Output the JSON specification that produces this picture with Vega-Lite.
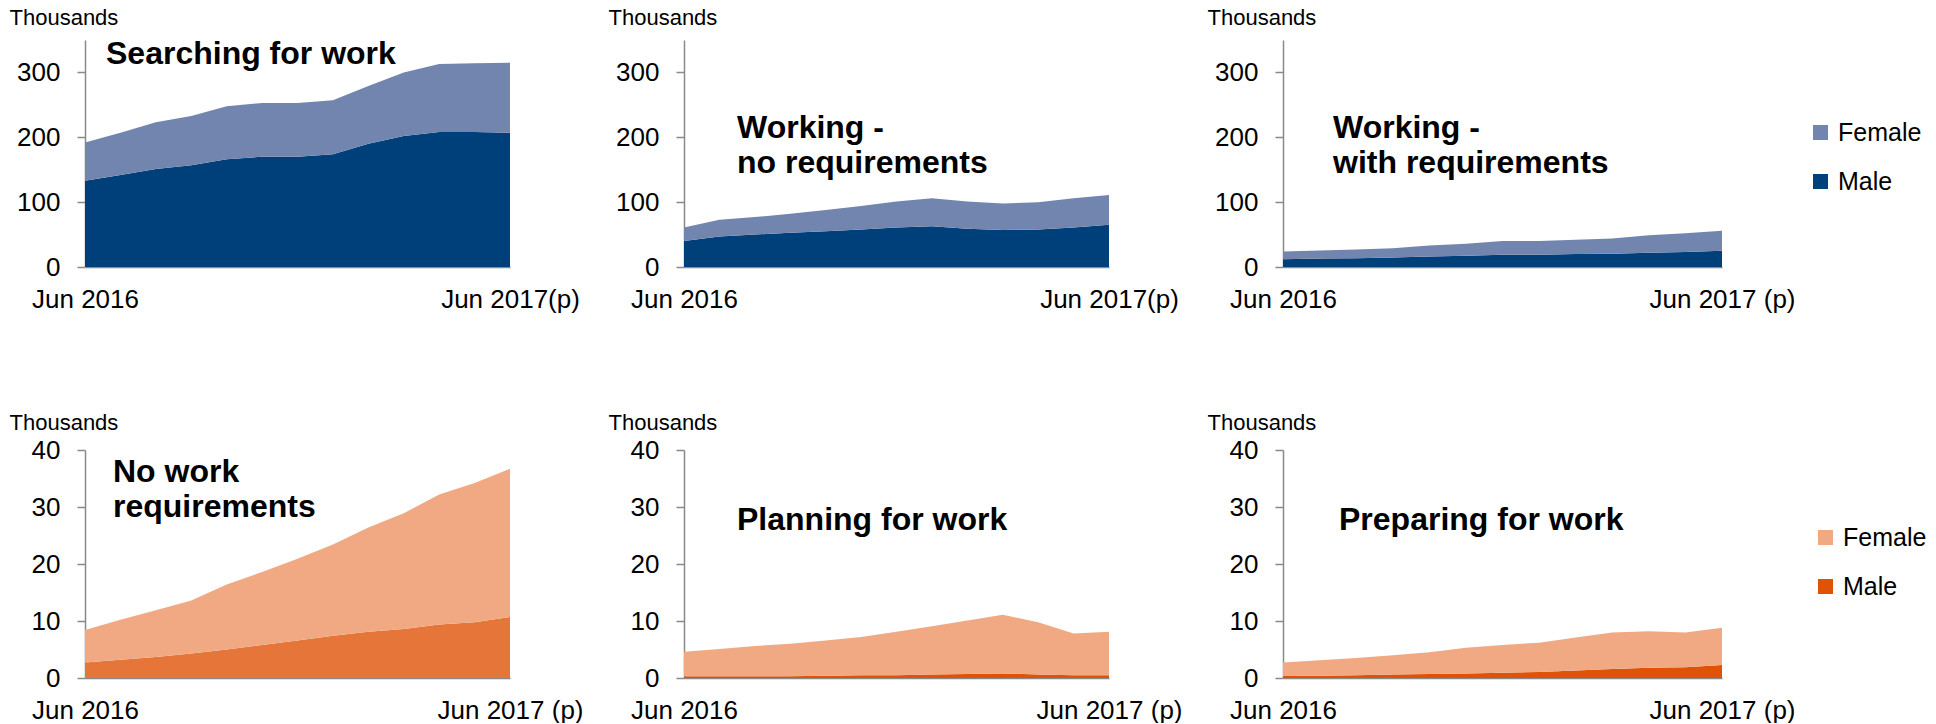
{
  "$schema": "https://vega.github.io/schema/vega-lite/v6.json",
  "padding": {"left": 9, "top": 6, "right": 5, "bottom": 0},
  "background": "white",
  "config": {
    "font": "Liberation Sans",
    "view": {"stroke": null},
    "axis": {"grid": false, "domainColor": "#898989", "tickColor": "#898989", "domainWidth": 1.5, "tickWidth": 1.5, "labelColor": "#000000", "labelFontSize": 26, "titleColor": "#000000", "titleFontWeight": "normal", "titleFontSize": 22},
    "axisX": {"ticks": false, "labelPadding": 19, "labelFlush": false, "labelOverlap": false, "labelAngle": 0, "title": null},
    "axisY": {"tickSize": 8, "labelPadding": 17, "titleAngle": 0, "titleAlign": "left", "titleBaseline": "alphabetic", "titleX": -76},
    "title": {"anchor": "start", "frame": "group", "offset": 0, "fontSize": 32, "fontWeight": "bold", "baseline": "alphabetic", "lineHeight": 35, "color": "#000000"},
    "legend": {"title": null, "symbolType": "square", "symbolSize": 225, "symbolStrokeWidth": 0, "labelFontSize": 25, "labelColor": "#000000", "rowPadding": 23, "labelOffset": 5, "padding": 0, "direction": "vertical"},
    "area": {"interpolate": "linear"}
  },
  "data": {"values": [
    {"panel": "search", "month": "Jun 2016", "Male": 133, "Female": 59},
    {"panel": "search", "month": "Jul 2016", "Male": 142, "Female": 65},
    {"panel": "search", "month": "Aug 2016", "Male": 151, "Female": 72},
    {"panel": "search", "month": "Sep 2016", "Male": 157, "Female": 76},
    {"panel": "search", "month": "Oct 2016", "Male": 166, "Female": 82},
    {"panel": "search", "month": "Nov 2016", "Male": 170, "Female": 83},
    {"panel": "search", "month": "Dec 2016", "Male": 170, "Female": 83},
    {"panel": "search", "month": "Jan 2017", "Male": 174, "Female": 83},
    {"panel": "search", "month": "Feb 2017", "Male": 190, "Female": 89},
    {"panel": "search", "month": "Mar 2017", "Male": 202, "Female": 98},
    {"panel": "search", "month": "Apr 2017", "Male": 208, "Female": 105},
    {"panel": "search", "month": "May 2017", "Male": 208, "Female": 106},
    {"panel": "search", "month": "Jun 2017", "Male": 207, "Female": 108},
    {"panel": "worknoreq", "month": "Jun 2016", "Male": 40, "Female": 21},
    {"panel": "worknoreq", "month": "Jul 2016", "Male": 47, "Female": 26},
    {"panel": "worknoreq", "month": "Aug 2016", "Male": 50, "Female": 27},
    {"panel": "worknoreq", "month": "Sep 2016", "Male": 53, "Female": 29},
    {"panel": "worknoreq", "month": "Oct 2016", "Male": 55, "Female": 33},
    {"panel": "worknoreq", "month": "Nov 2016", "Male": 58, "Female": 36},
    {"panel": "worknoreq", "month": "Dec 2016", "Male": 61, "Female": 40},
    {"panel": "worknoreq", "month": "Jan 2017", "Male": 63, "Female": 43},
    {"panel": "worknoreq", "month": "Feb 2017", "Male": 59, "Female": 42},
    {"panel": "worknoreq", "month": "Mar 2017", "Male": 57, "Female": 41},
    {"panel": "worknoreq", "month": "Apr 2017", "Male": 58, "Female": 42},
    {"panel": "worknoreq", "month": "May 2017", "Male": 61, "Female": 45},
    {"panel": "worknoreq", "month": "Jun 2017", "Male": 65, "Female": 46},
    {"panel": "workreq", "month": "Jun 2016", "Male": 12, "Female": 12},
    {"panel": "workreq", "month": "Jul 2016", "Male": 13, "Female": 12.5},
    {"panel": "workreq", "month": "Aug 2016", "Male": 13.5, "Female": 13.5},
    {"panel": "workreq", "month": "Sep 2016", "Male": 14.5, "Female": 14.5},
    {"panel": "workreq", "month": "Oct 2016", "Male": 16, "Female": 17},
    {"panel": "workreq", "month": "Nov 2016", "Male": 17.5, "Female": 18.5},
    {"panel": "workreq", "month": "Dec 2016", "Male": 19, "Female": 21},
    {"panel": "workreq", "month": "Jan 2017", "Male": 19, "Female": 21},
    {"panel": "workreq", "month": "Feb 2017", "Male": 20, "Female": 22},
    {"panel": "workreq", "month": "Mar 2017", "Male": 20.5, "Female": 23.5},
    {"panel": "workreq", "month": "Apr 2017", "Male": 22, "Female": 27},
    {"panel": "workreq", "month": "May 2017", "Male": 23, "Female": 29},
    {"panel": "workreq", "month": "Jun 2017", "Male": 25, "Female": 31},
    {"panel": "nowork", "month": "Jun 2016", "Male": 2.7, "Female": 5.7},
    {"panel": "nowork", "month": "Jul 2016", "Male": 3.2, "Female": 7.0},
    {"panel": "nowork", "month": "Aug 2016", "Male": 3.7, "Female": 8.2},
    {"panel": "nowork", "month": "Sep 2016", "Male": 4.3, "Female": 9.3},
    {"panel": "nowork", "month": "Oct 2016", "Male": 5.0, "Female": 11.4},
    {"panel": "nowork", "month": "Nov 2016", "Male": 5.8, "Female": 12.8},
    {"panel": "nowork", "month": "Dec 2016", "Male": 6.6, "Female": 14.3},
    {"panel": "nowork", "month": "Jan 2017", "Male": 7.4, "Female": 16.0},
    {"panel": "nowork", "month": "Feb 2017", "Male": 8.1, "Female": 18.3},
    {"panel": "nowork", "month": "Mar 2017", "Male": 8.6, "Female": 20.3},
    {"panel": "nowork", "month": "Apr 2017", "Male": 9.4, "Female": 22.8},
    {"panel": "nowork", "month": "May 2017", "Male": 9.8, "Female": 24.4},
    {"panel": "nowork", "month": "Jun 2017", "Male": 10.7, "Female": 26.0},
    {"panel": "planning", "month": "Jun 2016", "Male": 0.3, "Female": 4.3},
    {"panel": "planning", "month": "Jul 2016", "Male": 0.3, "Female": 4.8},
    {"panel": "planning", "month": "Aug 2016", "Male": 0.3, "Female": 5.3},
    {"panel": "planning", "month": "Sep 2016", "Male": 0.3, "Female": 5.7},
    {"panel": "planning", "month": "Oct 2016", "Male": 0.4, "Female": 6.2},
    {"panel": "planning", "month": "Nov 2016", "Male": 0.5, "Female": 6.7},
    {"panel": "planning", "month": "Dec 2016", "Male": 0.5, "Female": 7.6},
    {"panel": "planning", "month": "Jan 2017", "Male": 0.6, "Female": 8.5},
    {"panel": "planning", "month": "Feb 2017", "Male": 0.7, "Female": 9.4},
    {"panel": "planning", "month": "Mar 2017", "Male": 0.8, "Female": 10.3},
    {"panel": "planning", "month": "Apr 2017", "Male": 0.6, "Female": 9.2},
    {"panel": "planning", "month": "May 2017", "Male": 0.5, "Female": 7.3},
    {"panel": "planning", "month": "Jun 2017", "Male": 0.5, "Female": 7.6},
    {"panel": "preparing", "month": "Jun 2016", "Male": 0.35, "Female": 2.35},
    {"panel": "preparing", "month": "Jul 2016", "Male": 0.4, "Female": 2.7},
    {"panel": "preparing", "month": "Aug 2016", "Male": 0.5, "Female": 3.0},
    {"panel": "preparing", "month": "Sep 2016", "Male": 0.6, "Female": 3.4},
    {"panel": "preparing", "month": "Oct 2016", "Male": 0.7, "Female": 3.8},
    {"panel": "preparing", "month": "Nov 2016", "Male": 0.8, "Female": 4.5},
    {"panel": "preparing", "month": "Dec 2016", "Male": 0.9, "Female": 4.9},
    {"panel": "preparing", "month": "Jan 2017", "Male": 1.05, "Female": 5.15},
    {"panel": "preparing", "month": "Feb 2017", "Male": 1.3, "Female": 5.8},
    {"panel": "preparing", "month": "Mar 2017", "Male": 1.6, "Female": 6.4},
    {"panel": "preparing", "month": "Apr 2017", "Male": 1.8, "Female": 6.4},
    {"panel": "preparing", "month": "May 2017", "Male": 1.9, "Female": 6.1},
    {"panel": "preparing", "month": "Jun 2017", "Male": 2.3, "Female": 6.5}
  ]},
  "transform": [{"fold": ["Male", "Female"], "as": ["sex", "value"]}],
  "columns": 3,
  "spacing": {"row": 183, "column": 174},
  "bounds": "flush",
  "resolve": {"scale": {"color": "independent", "x": "independent", "y": "independent"}},
  "concat": [
    {
      "width": 425, "height": 227,
      "title": {"text": "Searching for work", "dx": 21, "dy": 69},
      "transform": [{"filter": "datum.panel == 'search'"}],
      "mark": "area",
      "encoding": {
        "x": {"field": "month", "type": "ordinal", "scale": {"type": "point", "padding": 0, "domain": ["Jun 2016","Jul 2016","Aug 2016","Sep 2016","Oct 2016","Nov 2016","Dec 2016","Jan 2017","Feb 2017","Mar 2017","Apr 2017","May 2017","Jun 2017"]}, "axis": {"values": ["Jun 2016", "Jun 2017"], "labelExpr": "datum.value == 'Jun 2017' ? 'Jun 2017(p)' : datum.value"}},
        "y": {"field": "value", "type": "quantitative", "stack": "zero", "scale": {"domain": [0, 350], "nice": false}, "axis": {"values": [0, 100, 200, 300], "title": "Thousands", "titleY": -16}},
        "color": {"field": "sex", "type": "nominal", "scale": {"domain": ["Female", "Male"], "range": ["#7285AF", "#00407A"]}, "legend": null},
        "order": {"field": "sex", "sort": "descending"}
      }
    },
    {
      "width": 425, "height": 227,
      "title": {"text": ["Working -", "no requirements"], "dx": 53, "dy": 178},
      "transform": [{"filter": "datum.panel == 'worknoreq'"}],
      "mark": "area",
      "encoding": {
        "x": {"field": "month", "type": "ordinal", "scale": {"type": "point", "padding": 0, "domain": ["Jun 2016","Jul 2016","Aug 2016","Sep 2016","Oct 2016","Nov 2016","Dec 2016","Jan 2017","Feb 2017","Mar 2017","Apr 2017","May 2017","Jun 2017"]}, "axis": {"values": ["Jun 2016", "Jun 2017"], "labelExpr": "datum.value == 'Jun 2017' ? 'Jun 2017(p)' : datum.value"}},
        "y": {"field": "value", "type": "quantitative", "stack": "zero", "scale": {"domain": [0, 350], "nice": false}, "axis": {"values": [0, 100, 200, 300], "title": "Thousands", "titleY": -16}},
        "color": {"field": "sex", "type": "nominal", "scale": {"domain": ["Female", "Male"], "range": ["#7285AF", "#00407A"]}, "legend": null},
        "order": {"field": "sex", "sort": "descending"}
      }
    },
    {
      "width": 439, "height": 227,
      "title": {"text": ["Working -", "with requirements"], "dx": 50, "dy": 178},
      "transform": [{"filter": "datum.panel == 'workreq'"}],
      "mark": "area",
      "encoding": {
        "x": {"field": "month", "type": "ordinal", "scale": {"type": "point", "padding": 0, "domain": ["Jun 2016","Jul 2016","Aug 2016","Sep 2016","Oct 2016","Nov 2016","Dec 2016","Jan 2017","Feb 2017","Mar 2017","Apr 2017","May 2017","Jun 2017"]}, "axis": {"values": ["Jun 2016", "Jun 2017"], "labelExpr": "datum.value == 'Jun 2017' ? 'Jun 2017 (p)' : datum.value"}},
        "y": {"field": "value", "type": "quantitative", "stack": "zero", "scale": {"domain": [0, 350], "nice": false}, "axis": {"values": [0, 100, 200, 300], "title": "Thousands", "titleY": -16}},
        "color": {"field": "sex", "type": "nominal", "scale": {"domain": ["Female", "Male"], "range": ["#7285AF", "#00407A"]}, "legend": {"orient": "none", "legendX": 525, "legendY": 80}},
        "order": {"field": "sex", "sort": "descending"}
      }
    },
    {
      "width": 425, "height": 228,
      "title": {"text": ["No work", "requirements"], "dx": 28, "dy": 117},
      "transform": [{"filter": "datum.panel == 'nowork'"}],
      "mark": "area",
      "encoding": {
        "x": {"field": "month", "type": "ordinal", "scale": {"type": "point", "padding": 0, "domain": ["Jun 2016","Jul 2016","Aug 2016","Sep 2016","Oct 2016","Nov 2016","Dec 2016","Jan 2017","Feb 2017","Mar 2017","Apr 2017","May 2017","Jun 2017"]}, "axis": {"values": ["Jun 2016", "Jun 2017"], "labelExpr": "datum.value == 'Jun 2017' ? 'Jun 2017 (p)' : datum.value"}},
        "y": {"field": "value", "type": "quantitative", "stack": "zero", "scale": {"domain": [0, 40], "nice": false}, "axis": {"values": [0, 10, 20, 30, 40], "title": "Thousands", "titleY": -21}},
        "color": {"field": "sex", "type": "nominal", "scale": {"domain": ["Female", "Male"], "range": ["#F0A982", "#E67539"]}, "legend": null},
        "order": {"field": "sex", "sort": "descending"}
      }
    },
    {
      "width": 425, "height": 228,
      "title": {"text": "Planning for work", "dx": 53, "dy": 130},
      "transform": [{"filter": "datum.panel == 'planning'"}],
      "mark": "area",
      "encoding": {
        "x": {"field": "month", "type": "ordinal", "scale": {"type": "point", "padding": 0, "domain": ["Jun 2016","Jul 2016","Aug 2016","Sep 2016","Oct 2016","Nov 2016","Dec 2016","Jan 2017","Feb 2017","Mar 2017","Apr 2017","May 2017","Jun 2017"]}, "axis": {"values": ["Jun 2016", "Jun 2017"], "labelExpr": "datum.value == 'Jun 2017' ? 'Jun 2017 (p)' : datum.value"}},
        "y": {"field": "value", "type": "quantitative", "stack": "zero", "scale": {"domain": [0, 40], "nice": false}, "axis": {"values": [0, 10, 20, 30, 40], "title": "Thousands", "titleY": -21}},
        "color": {"field": "sex", "type": "nominal", "scale": {"domain": ["Female", "Male"], "range": ["#F0A982", "#E05206"]}, "legend": null},
        "order": {"field": "sex", "sort": "descending"}
      }
    },
    {
      "width": 439, "height": 228,
      "title": {"text": "Preparing for work", "dx": 56, "dy": 130},
      "transform": [{"filter": "datum.panel == 'preparing'"}],
      "mark": "area",
      "encoding": {
        "x": {"field": "month", "type": "ordinal", "scale": {"type": "point", "padding": 0, "domain": ["Jun 2016","Jul 2016","Aug 2016","Sep 2016","Oct 2016","Nov 2016","Dec 2016","Jan 2017","Feb 2017","Mar 2017","Apr 2017","May 2017","Jun 2017"]}, "axis": {"values": ["Jun 2016", "Jun 2017"], "labelExpr": "datum.value == 'Jun 2017' ? 'Jun 2017 (p)' : datum.value"}},
        "y": {"field": "value", "type": "quantitative", "stack": "zero", "scale": {"domain": [0, 40], "nice": false}, "axis": {"values": [0, 10, 20, 30, 40], "title": "Thousands", "titleY": -21}},
        "color": {"field": "sex", "type": "nominal", "scale": {"domain": ["Female", "Male"], "range": ["#F0A982", "#E05206"]}, "legend": {"orient": "none", "legendX": 530, "legendY": 75}},
        "order": {"field": "sex", "sort": "descending"}
      }
    }
  ]
}
